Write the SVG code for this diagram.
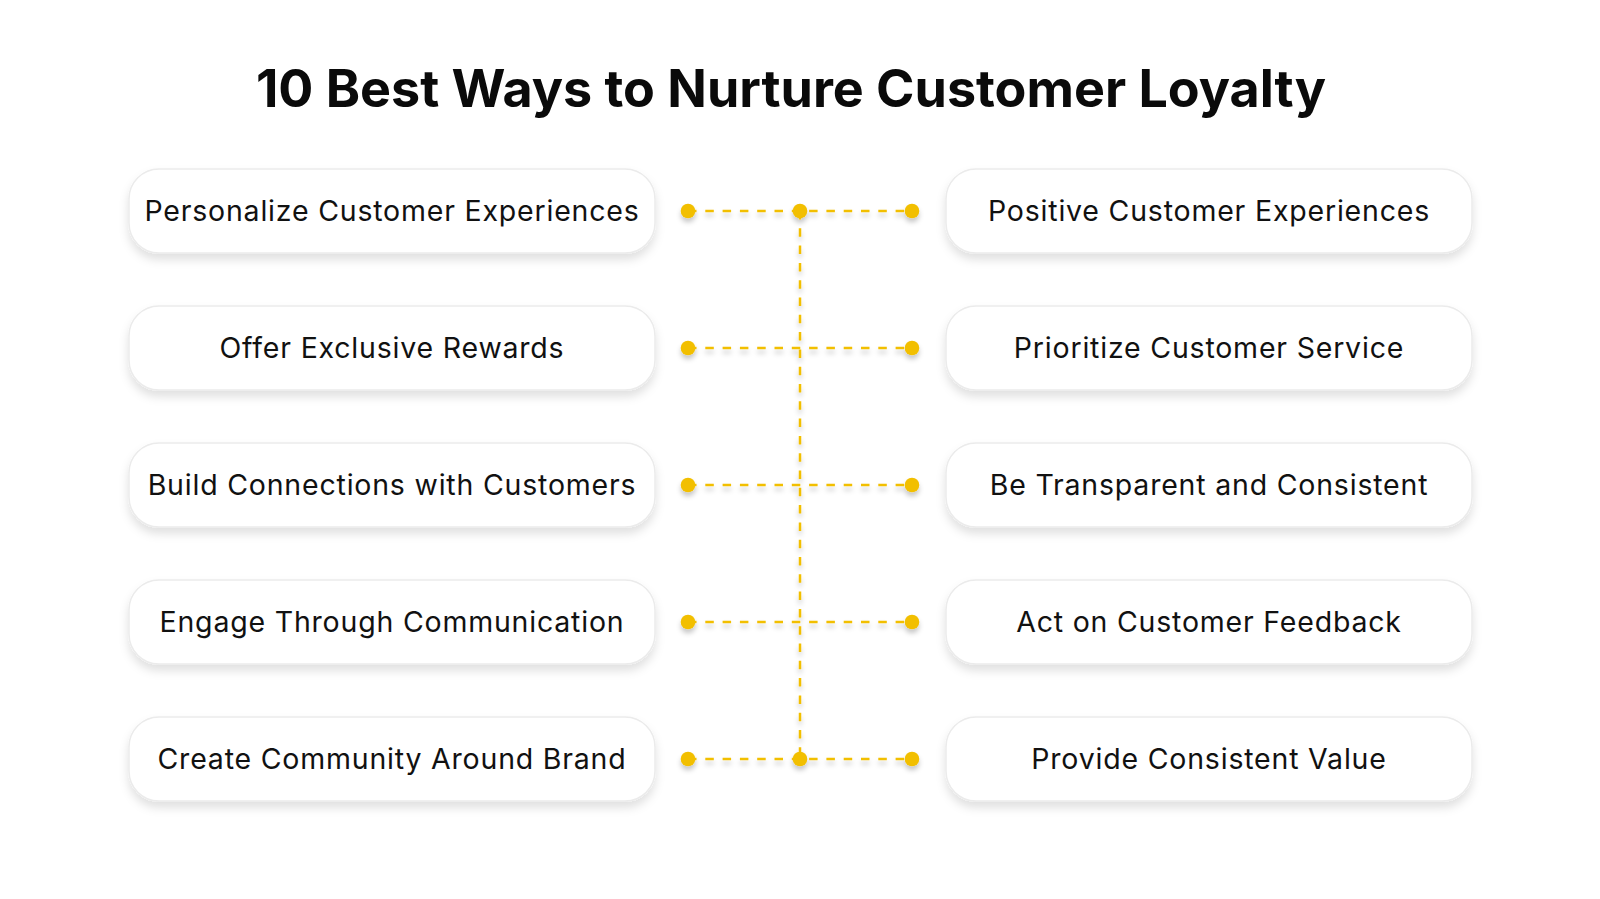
<svg xmlns="http://www.w3.org/2000/svg" width="1600" height="899" viewBox="0 0 1600 899">
<defs>
<filter id="sh" x="-10%" y="-30%" width="120%" height="170%">
<feDropShadow dx="0" dy="6" stdDeviation="5" flood-color="#000" flood-opacity="0.12"/>
</filter>
<filter id="dsh" filterUnits="userSpaceOnUse" x="0" y="0" width="1600" height="899">
<feDropShadow dx="0" dy="4" stdDeviation="2.5" flood-color="#000" flood-opacity="0.22"/>
</filter>
<style>
.box{fill:#fff;stroke:#ebebeb;stroke-width:1.5;filter:url(#sh)}
.lbl{font-family:Inter,"Noto Sans","Liberation Sans",sans-serif;font-size:28.5px;letter-spacing:0.8px;fill:#111;text-anchor:middle}
.ttl{font-family:Inter,"Liberation Sans",sans-serif;font-size:52px;font-weight:700;fill:#0a0a0a;text-anchor:middle}
.dash{stroke:#f2bf00;stroke-width:2.5;stroke-dasharray:8.5 8.8;fill:none}
.dot{fill:#f2bf00}
</style>
</defs>
<rect width="1600" height="899" fill="#fff"/>
<text class="ttl" x="791" y="107">10 Best Ways to Nurture Customer Loyalty</text>
<g id="connectors" filter="url(#dsh)">
<path class="dash" d="M800 211 V759"/>
<path class="dash" d="M688 211 H912"/>
<path class="dash" d="M688 348 H912"/>
<path class="dash" d="M688 485 H912"/>
<path class="dash" d="M688 622 H912"/>
<path class="dash" d="M688 759 H912"/>
<circle class="dot" cx="688" cy="211" r="7.3"/>
<circle class="dot" cx="800" cy="211" r="7.3"/>
<circle class="dot" cx="912" cy="211" r="7.3"/>
<circle class="dot" cx="688" cy="348" r="7.3"/>
<circle class="dot" cx="912" cy="348" r="7.3"/>
<circle class="dot" cx="688" cy="485" r="7.3"/>
<circle class="dot" cx="912" cy="485" r="7.3"/>
<circle class="dot" cx="688" cy="622" r="7.3"/>
<circle class="dot" cx="912" cy="622" r="7.3"/>
<circle class="dot" cx="688" cy="759" r="7.3"/>
<circle class="dot" cx="800" cy="759" r="7.3"/>
<circle class="dot" cx="912" cy="759" r="7.3"/>
</g>
<g id="n1"><rect class="box" x="129" y="169" width="526" height="84" rx="30"/><text class="lbl" x="392" y="221">Personalize Customer Experiences</text></g>
<g id="n2"><rect class="box" x="129" y="306" width="526" height="84" rx="30"/><text class="lbl" x="392" y="358">Offer Exclusive Rewards</text></g>
<g id="n3"><rect class="box" x="129" y="443" width="526" height="84" rx="30"/><text class="lbl" x="392" y="495">Build Connections with Customers</text></g>
<g id="n4"><rect class="box" x="129" y="580" width="526" height="84" rx="30"/><text class="lbl" x="392" y="632">Engage Through Communication</text></g>
<g id="n5"><rect class="box" x="129" y="717" width="526" height="84" rx="30"/><text class="lbl" x="392" y="769">Create Community Around Brand</text></g>
<g id="n6"><rect class="box" x="946" y="169" width="526" height="84" rx="30"/><text class="lbl" x="1209" y="221">Positive Customer Experiences</text></g>
<g id="n7"><rect class="box" x="946" y="306" width="526" height="84" rx="30"/><text class="lbl" x="1209" y="358">Prioritize Customer Service</text></g>
<g id="n8"><rect class="box" x="946" y="443" width="526" height="84" rx="30"/><text class="lbl" x="1209" y="495">Be Transparent and Consistent</text></g>
<g id="n9"><rect class="box" x="946" y="580" width="526" height="84" rx="30"/><text class="lbl" x="1209" y="632">Act on Customer Feedback</text></g>
<g id="n10"><rect class="box" x="946" y="717" width="526" height="84" rx="30"/><text class="lbl" x="1209" y="769">Provide Consistent Value</text></g>
</svg>
